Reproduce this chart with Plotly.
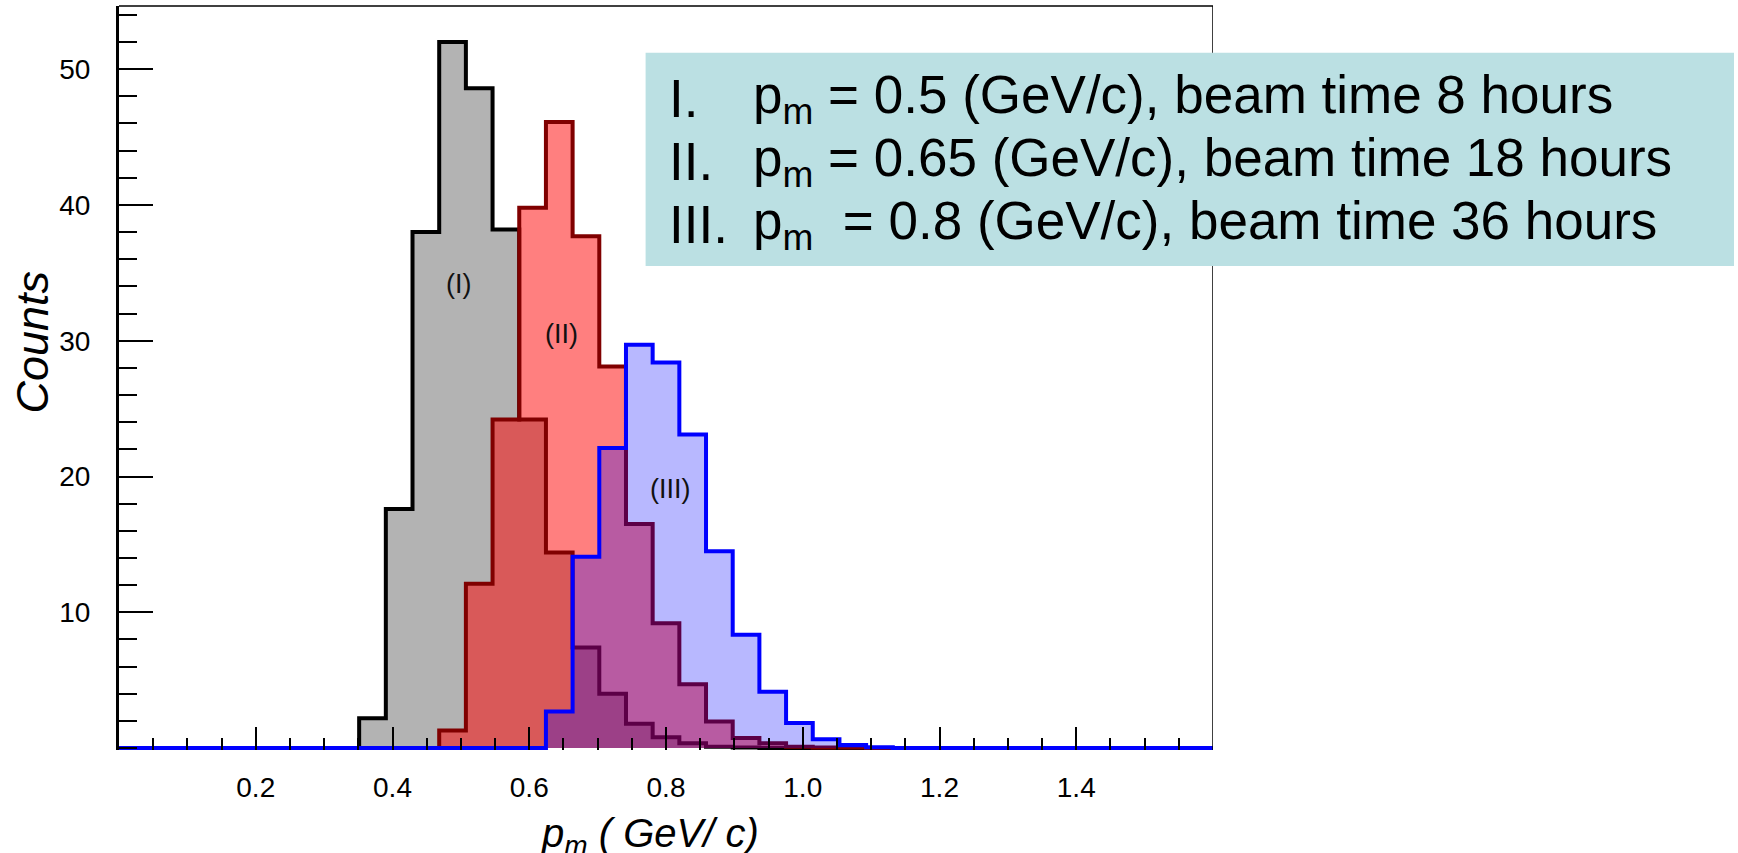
import numpy as np
import plotly.graph_objects as go

# ---------------- data ----------------
N_BINS = 41
X_MIN, X_MAX = 0.0, 1.6

# counts per bin (bin k covers [k*w, (k+1)*w], w = 1.6/41)
counts_I = [0, 0, 0, 0, 0, 0, 0, 0, 0,
            2.2, 17.6, 38.0, 52.0, 48.6, 38.2, 24.2, 14.4, 7.4, 4.0, 1.8,
            0.8, 0.35, 0.1, 0.05, 0, 0, 0, 0, 0, 0,
            0, 0, 0, 0, 0, 0, 0, 0, 0, 0, 0]
counts_II = [0, 0, 0, 0, 0, 0, 0, 0, 0, 0, 0, 0,
             1.3, 12.1, 24.2, 39.8, 46.1, 37.7, 28.1, 16.5, 9.2, 4.7,
             1.95, 0.75, 0.35, 0.1, 0.05, 0.05, 0, 0,
             0, 0, 0, 0, 0, 0, 0, 0, 0, 0, 0]
counts_III = [0, 0, 0, 0, 0, 0, 0, 0, 0, 0, 0, 0, 0, 0, 0, 0,
              2.7, 14.1, 22.1, 29.7, 28.4, 23.1, 14.5, 8.35, 4.15, 1.85,
              0.65, 0.22, 0.06, 0, 0,
              0, 0, 0, 0, 0, 0, 0, 0, 0, 0]

hist_labels = ["(I)", "(II)", "(III)"]
label_x = [0.497, 0.647, 0.807]
label_y = [34.2, 30.5, 19.1]

legend_numerals = ["I.", "II.", "III."]
legend_texts = ["p<sub>m</sub> = 0.5 (GeV/c), beam time 8 hours",
                "p<sub>m</sub> = 0.65 (GeV/c), beam time 18 hours",
                "p<sub>m</sub>  = 0.8 (GeV/c), beam time 36 hours"]

x_tick_vals = [0.2, 0.4, 0.6, 0.8, 1.0, 1.2, 1.4]
x_tick_text = ["0.2", "0.4", "0.6", "0.8", "1.0", "1.2", "1.4"]
y_tick_vals = [10, 20, 30, 40, 50]
y_tick_text = ["10", "20", "30", "40", "50"]

# ---------------- geometry ----------------
W, H = 1738, 853
ML, MR, MT, MB = 119, 525, 6, 103
PW, PH = W - ML - MR, H - MT - MB
Y_RANGE = [-0.14, 54.65]

edges = np.linspace(X_MIN, X_MAX, N_BINS + 1)


def px_x(px):
    return (px - ML) / PW


def px_y(py):
    return (H - MB - py) / PH


FONT = "Liberation Sans, Arial, Helvetica, sans-serif"

fig = go.Figure()

styles = [
    dict(fill="#b3b3b3", line="#000000"),
    dict(fill="rgba(255,0,0,0.5)", line="#800000"),
    dict(fill="rgba(0,0,255,0.28)", line="#0000ff"),
]
for counts, st in zip([counts_I, counts_II, counts_III], styles):
    ys = list(counts) + [counts[-1]]
    fig.add_trace(go.Scatter(
        x=edges, y=ys, mode="lines",
        line=dict(shape="hv", color=st["line"], width=4),
        fill="tozeroy", fillcolor=st["fill"],
        hoverinfo="skip", showlegend=False,
    ))

# histogram labels
for t, x, y in zip(hist_labels, label_x, label_y):
    fig.add_annotation(x=x, y=y, xref="x", yref="y", text=t, showarrow=False,
                       font=dict(family=FONT, size=27, color="#111111"),
                       xanchor="center", yanchor="middle")

shapes = []
# thin top/right frame
shapes.append(dict(type="line", xref="x", yref="paper", x0=X_MIN, x1=X_MAX, y0=1, y1=1,
                   line=dict(color="black", width=1.5), layer="above"))
shapes.append(dict(type="line", xref="x", yref="paper", x0=X_MAX, x1=X_MAX, y0=0, y1=1,
                   line=dict(color="black", width=1.5), layer="above"))
# legend box
shapes.append(dict(type="rect", xref="paper", yref="paper",
                   x0=px_x(645.6), x1=px_x(1734), y0=px_y(266), y1=px_y(52.7),
                   fillcolor="#bbe0e3", line=dict(width=0), layer="above"))

baselines = [115, 178.3, 241.7]
for num, txt, b in zip(legend_numerals, legend_texts, baselines):
    yc = px_y(b - 17)
    fig.add_annotation(x=px_x(667), y=yc, xref="paper", yref="paper", text=num,
                       showarrow=False, xanchor="left", yanchor="middle",
                       font=dict(family=FONT, size=53, color="black"))
    fig.add_annotation(x=px_x(751), y=yc, xref="paper", yref="paper", text=txt,
                       showarrow=False, xanchor="left", yanchor="middle",
                       font=dict(family=FONT, size=53, color="black"))

# axis titles
fig.add_annotation(x=px_x(31.5), y=px_y(342), xref="paper", yref="paper",
                   text="<i>Counts</i>", textangle=-90, showarrow=False,
                   xanchor="center", yanchor="middle",
                   font=dict(family=FONT, size=45, color="black"))
fig.add_annotation(x=px_x(539), y=px_y(836), xref="paper", yref="paper",
                   text="<i>p</i><sub><i>m</i></sub><i> ( GeV/ c)</i>", showarrow=False,
                   xanchor="left", yanchor="middle",
                   font=dict(family=FONT, size=40, color="black"))

fig.update_layout(
    width=W, height=H,
    margin=dict(l=ML, r=MR, t=MT, b=MB, pad=0),
    plot_bgcolor="white", paper_bgcolor="white",
    shapes=shapes,
    showlegend=False,
    xaxis=dict(
        range=[X_MIN, X_MAX], showgrid=False, zeroline=False, showline=False,
        tickmode="array", tickvals=x_tick_vals, ticktext=x_tick_text,
        ticks="inside", ticklen=23, tickwidth=2, tickcolor="black",
        ticklabelstandoff=18,
        tickfont=dict(family=FONT, size=28, color="black"),
        minor=dict(tickmode="linear", tick0=0, dtick=0.05, ticks="inside",
                   ticklen=12, tickwidth=1.8, tickcolor="black", showgrid=False),
    ),
    yaxis=dict(
        range=Y_RANGE, showgrid=False, zeroline=False,
        showline=True, linecolor="black", linewidth=3,
        tickmode="array", tickvals=y_tick_vals, ticktext=y_tick_text,
        ticks="inside", ticklen=34, tickwidth=2, tickcolor="black",
        ticklabelstandoff=20,
        tickfont=dict(family=FONT, size=28, color="black"),
        minor=dict(tickmode="linear", tick0=0, dtick=2, ticks="inside",
                   ticklen=18, tickwidth=1.8, tickcolor="black", showgrid=False),
    ),
)

fig.write_html(
    "out.html",
    config={"displayModeBar": False},
    post_script="document.body.style.margin='0px';document.body.style.overflow='hidden';",
)
